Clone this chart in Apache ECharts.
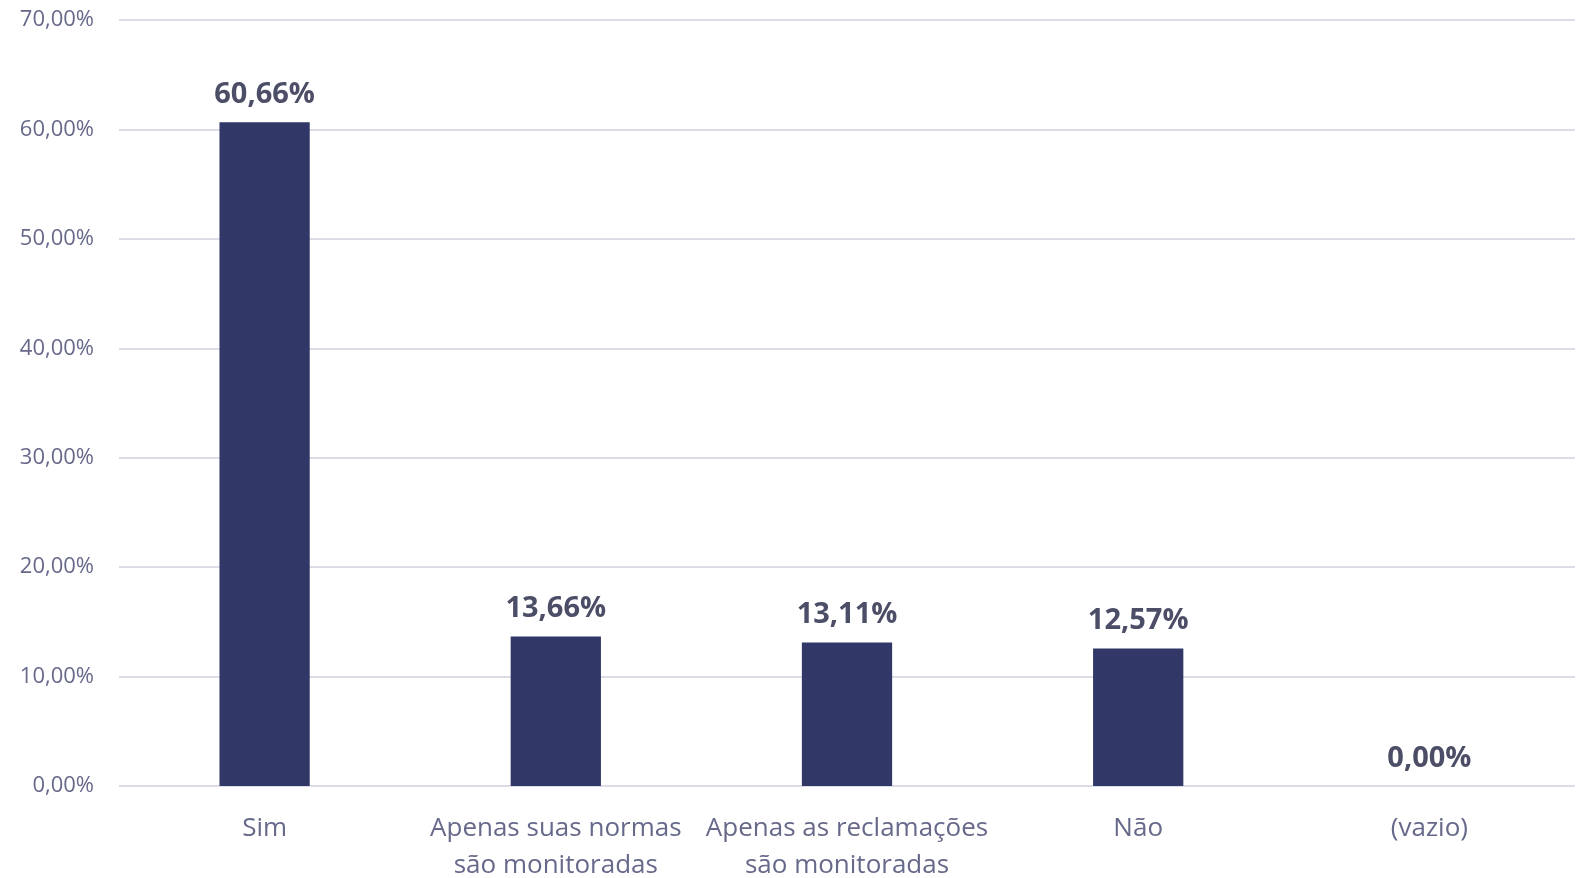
<!DOCTYPE html>
<html>
<head>
<meta charset="utf-8">
<script src="https://cdn.jsdelivr.net/npm/echarts@6/dist/echarts.min.js"></script>
<style>
  html, body { margin: 0; padding: 0; background: #fff; }
  #chart { width: 1583px; height: 878px; }
</style>
</head>
<body>
<div id="chart"></div>
<script>
const categories = [
  'Sim',
  'Apenas suas normas\nsão monitoradas',
  'Apenas as reclamações\nsão monitoradas',
  'Não',
  '(vazio)'
]
const values = [60.66, 13.66, 13.11, 12.57, 0]

const fmt = v => v.toFixed(2).replace('.', ',') + '%'

const chart = echarts.init(document.getElementById('chart'))
chart.setOption({
  animation: false,
  grid: { left: 119, right: 8, top: 20, bottom: 92, outerBoundsMode: 'none', containLabel: false },
  xAxis: {
    type: 'category',
    data: categories,
    axisLine: { show: false },
    axisTick: { show: false },
    axisLabel: {
      color: '#66698a',
      fontFamily: 'Open Sans',
      fontSize: 26,
      lineHeight: 37,
      margin: 24,
      interval: 0
    }
  },
  yAxis: {
    type: 'value',
    min: 0,
    max: 70,
    interval: 10,
    axisLabel: {
      color: '#66698a',
      fontFamily: 'Open Sans',
      fontSize: 22,
      margin: 25,
      formatter: v => fmt(v)
    },
    splitLine: { lineStyle: { color: '#dcdce6', width: 2 } }
  },
  series: [{
    type: 'bar',
    data: values,
    barWidth: '31%',
    itemStyle: { color: '#313868' },
    label: {
      show: true,
      position: 'top',
      distance: 13,
      color: '#4b4e66',
      fontFamily: 'Open Sans',
      fontWeight: 'bold',
      fontSize: 29,
      formatter: p => fmt(p.value)
    }
  }]
})
</script>
</body>
</html>
